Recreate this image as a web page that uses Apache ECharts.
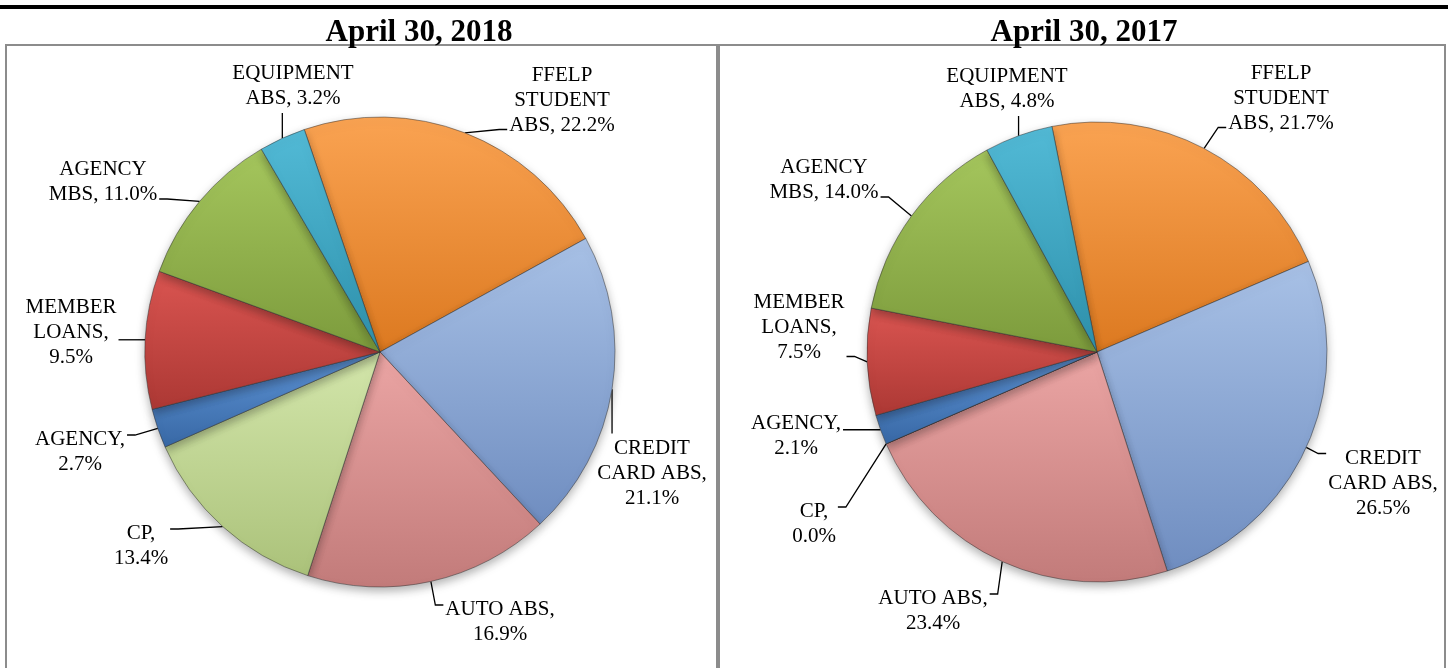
<!DOCTYPE html>
<html>
<head>
<meta charset="utf-8">
<title>Holdings by sector</title>
<script src="https://cdn.jsdelivr.net/npm/echarts@6/dist/echarts.min.js"></script>
<style>
  html, body { margin: 0; padding: 0; background: #fff; }
  #chart { width: 1448px; height: 668px; }
</style>
</head>
<body>
<div id="chart"></div>
<script>
// values (percent of portfolio)
var periods = ['April 30, 2018', 'April 30, 2017'];
var categories = ['FFELP STUDENT ABS', 'CREDIT CARD ABS', 'AUTO ABS', 'CP', 'AGENCY', 'MEMBER LOANS', 'AGENCY MBS', 'EQUIPMENT ABS'];
var values2018 = [22.2, 21.1, 16.9, 13.4, 2.7, 9.5, 11.0, 3.2];
var values2017 = [21.7, 26.5, 23.4, 0.0, 2.1, 7.5, 14.0, 4.8];

// how each label wraps, {v} gets the percent
var labelWrap = ['FFELP\nSTUDENT\nABS, {v}', 'CREDIT\nCARD ABS,\n{v}', 'AUTO ABS,\n{v}', 'CP,\n{v}',
  'AGENCY,\n{v}', 'MEMBER\nLOANS,\n{v}', 'AGENCY\nMBS, {v}', 'EQUIPMENT\nABS, {v}'];

// top / bottom shade of every slice (office 2007 look)
var sliceColors = [
  ['#FAA352', '#DC7920'],
  ['#A8C1E6', '#6F8DC0'],
  ['#EBA5A4', '#C27B7A'],
  ['#D3E6AB', '#ABC27A'],
  ['#5E94D6', '#3868A5'],
  ['#DA5551', '#AC3834'],
  ['#A5C65D', '#7C9B3C'],
  ['#52BAD6', '#2E91AC']
];

// label block centres, relative to the pie centre
var labelPos2018 = [[182, -252], [272, 121], [120, 270], [-239, 194], [-300, 100], [-309, -20], [-277, -170], [-87, -266]];
var labelPos2017 = [[184, -254], [286, 131], [-164, 259], [-283, 172], [-301, 84], [-298, -25], [-273, -172], [-90, -263]];

function clamp(v, a, b) { return Math.max(a, Math.min(b, v)); }

function shade(c) {
  return { type: 'linear', x: 0, y: 0, x2: 0, y2: 1, colorStops: [{ offset: 0, color: c[0] }, { offset: 1, color: c[1] }] };
}

// put labels where excel had them and draw a short leader to the slice edge
function placeLabels(center, offsets) {
  return function (params) {
    var off = offsets[params.dataIndex];
    var lx = center[0] + off[0], ly = center[1] + off[1];
    var w = params.labelRect.width, h = params.labelRect.height;
    var rx = lx - w / 2, ry = ly - h / 2;
    var res = { x: lx, y: ly, align: 'center', verticalAlign: 'middle' };
    var pts = params.labelLinePoints;
    if (pts && pts.length) {
      var a = [pts[0][0], pts[0][1]], t, e;
      if (a[0] < rx) {
        t = [rx - 2, clamp(a[1], ry + 8, ry + h - 8)];
        e = [t[0] - 8, t[1]];
      } else if (a[0] > rx + w) {
        t = [rx + w + 2, clamp(a[1], ry + 8, ry + h - 8)];
        e = [t[0] + 8, t[1]];
      } else {
        t = [a[0], a[1] < ry ? ry - 2 : ry + h + 2];
        e = t;
      }
      res.labelLinePoints = [a, e, t];
    }
    return res;
  };
}

function pieSeries(values, center, radius, startAngle, offsets) {
  return {
    type: 'pie',
    center: center,
    radius: radius,
    startAngle: startAngle,
    clockwise: true,
    avoidLabelOverlap: false,
    silent: true,
    data: values.map(function (v, i) {
      return { name: categories[i], value: v, itemStyle: { color: shade(sliceColors[i]) } };
    }),
    itemStyle: {
      borderColor: 'rgba(50,50,50,0.5)',
      borderWidth: 1,
      shadowBlur: 10,
      shadowOffsetY: 4,
      shadowColor: 'rgba(0,0,0,0.3)'
    },
    label: {
      show: true,
      position: 'outside',
      color: '#000',
      fontFamily: 'Liberation Serif',
      fontSize: 21,
      lineHeight: 25,
      formatter: function (p) {
        return labelWrap[p.dataIndex].replace('{v}', p.value.toFixed(1) + '%');
      }
    },
    labelLine: { show: true, length: 10, length2: 10, lineStyle: { color: '#000', width: 1.3 } },
    labelLayout: placeLabels(center, offsets)
  };
}

var headStyle = { fontFamily: 'Liberation Serif', fontWeight: 'bold', fontSize: 31, color: '#000' };

var option = {
  animation: false,
  backgroundColor: '#fff',
  title: [
    { text: periods[0], left: 414, top: 12, textAlign: 'center', textStyle: headStyle },
    { text: periods[1], left: 1079, top: 12, textAlign: 'center', textStyle: headStyle }
  ],
  graphic: [
    { type: 'rect', z: -1, shape: { x: 0, y: 5, width: 1448, height: 4 }, style: { fill: '#000' } },
    { type: 'rect', z: -1, shape: { x: 6, y: 45, width: 711, height: 700 }, style: { fill: 'none', stroke: '#8c8c8c', lineWidth: 2 } },
    { type: 'rect', z: -1, shape: { x: 719, y: 45, width: 726, height: 700 }, style: { fill: 'none', stroke: '#8c8c8c', lineWidth: 2 } }
  ],
  series: [
    pieSeries(values2018, [380, 352], 235, 108.8, labelPos2018),
    pieSeries(values2017, [1097, 352], 230, 101.3, labelPos2017)
  ]
};

var chart = echarts.init(document.getElementById('chart'));
chart.setOption(option);
</script>
</body>
</html>
